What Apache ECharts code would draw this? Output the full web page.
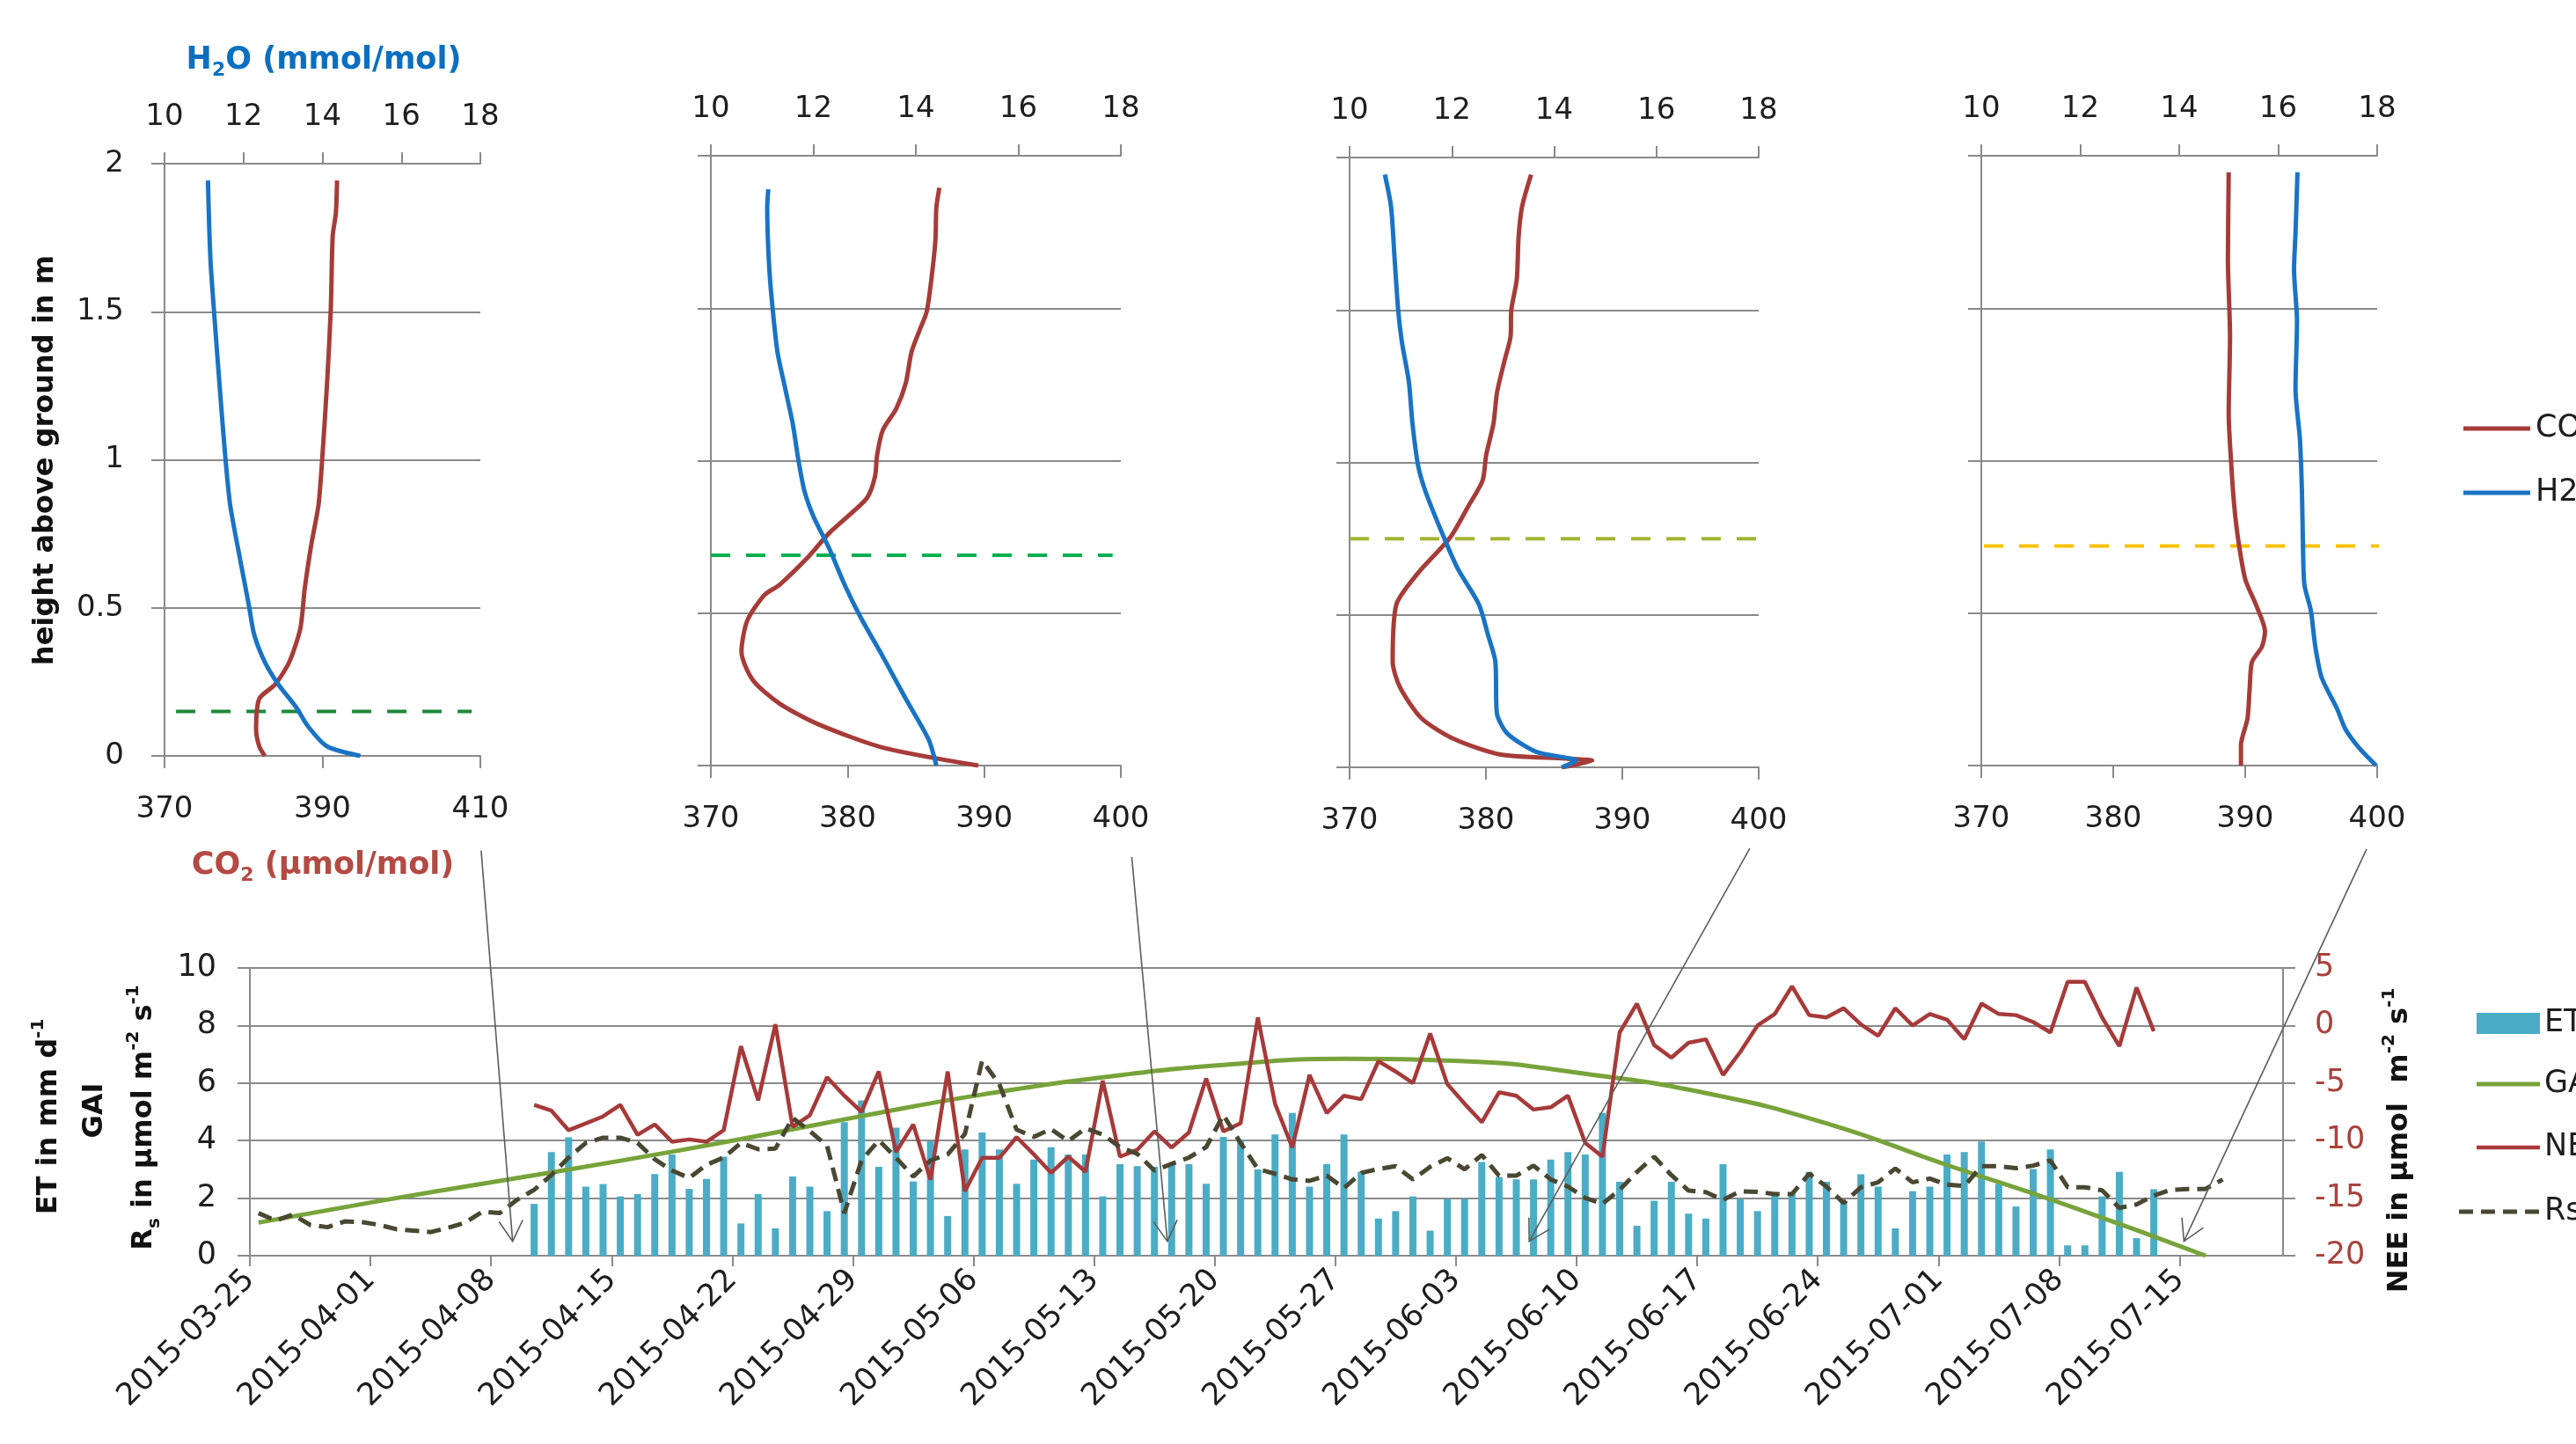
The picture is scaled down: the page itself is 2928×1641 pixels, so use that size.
<!DOCTYPE html>
<html>
<head>
<meta charset="utf-8">
<script src="https://cdn.jsdelivr.net/npm/echarts@6/dist/echarts.min.js"></script>
<style>
  html, body { margin: 0; padding: 0; background: #fff; }
  #chart { width: 2928px; height: 1641px; }
</style>
</head>
<body>
<div id="chart"></div>
<script>
// ---------- Vertical profiles: [CO2 µmol/mol, height m] and [H2O mmol/mol, height m] ----------
const profileCO2_1 = [[391.85,1.943],[391.7,1.833],[391.3,1.757],[391.06,1.511],[390.6,1.264],[389.96,0.999],[389.5,0.847],[388.6,0.715],[387.75,0.563],[387.2,0.43],[385.8,0.317],[384.0,0.241],[382.0,0.193],[381.6,0.089],[382.0,0.032],[382.7,0]];
const profileH2O_1 = [[11.10,1.943],[11.13,1.795],[11.17,1.66],[11.26,1.49],[11.39,1.26],[11.52,1.04],[11.66,0.85],[11.92,0.66],[12.14,0.506],[12.27,0.41],[12.54,0.317],[12.89,0.24],[13.33,0.165],[13.64,0.099],[14.12,0.032],[14.96,0]];

const profileCO2_2 = [[386.72,1.895],[386.5,1.83],[386.44,1.73],[386.22,1.627],[385.8,1.49],[385.24,1.424],[384.68,1.356],[384.26,1.254],[383.56,1.17],[382.58,1.10],[382.16,1.017],[382.02,0.95],[381.46,0.88],[380.34,0.83],[378.67,0.763],[376.99,0.678],[375.03,0.593],[373.91,0.559],[372.66,0.475],[372.24,0.373],[373.08,0.28],[375.03,0.203],[377.83,0.136],[382.58,0.059],[389.57,0]];
const profileH2O_2 = [[11.12,1.89],[11.10,1.83],[11.13,1.66],[11.19,1.525],[11.30,1.356],[11.45,1.237],[11.60,1.119],[11.71,1.0],[11.83,0.898],[12.01,0.814],[12.31,0.712],[12.61,0.593],[12.91,0.49],[13.36,0.356],[13.80,0.22],[14.25,0.085],[14.40,0]];

const profileCO2_3 = [[383.31,1.944],[382.65,1.839],[382.39,1.737],[382.26,1.6],[381.86,1.5],[381.81,1.415],[381.34,1.33],[380.81,1.229],[380.55,1.127],[380.02,1.025],[379.75,0.94],[378.70,0.856],[377.38,0.754],[375.0,0.636],[373.43,0.534],[373.16,0.347],[373.69,0.263],[375.27,0.161],[377.65,0.093],[381.07,0.042],[385.82,0.029],[387.79,0.022],[385.55,0]];
const profileH2O_3 = [[10.69,1.944],[10.81,1.839],[10.88,1.669],[10.95,1.5],[11.02,1.398],[11.16,1.263],[11.23,1.127],[11.34,0.99],[11.48,0.907],[11.76,0.788],[12.11,0.653],[12.53,0.534],[12.71,0.432],[12.85,0.347],[12.88,0.178],[13.09,0.11],[13.66,0.05],[14.43,0.022],[14.15,0]];

const profileCO2_4 = [[388.75,1.946],[388.69,1.66],[388.85,1.407],[388.75,1.153],[388.95,0.983],[389.18,0.847],[389.51,0.729],[390.01,0.61],[390.84,0.525],[391.50,0.44],[391.27,0.39],[390.51,0.339],[390.34,0.254],[390.17,0.153],[389.68,0.068],[389.68,0]];
const profileH2O_4 = [[16.39,1.946],[16.35,1.746],[16.32,1.627],[16.38,1.458],[16.35,1.237],[16.44,1.068],[16.48,0.898],[16.50,0.729],[16.53,0.593],[16.66,0.508],[16.75,0.39],[16.88,0.288],[17.19,0.186],[17.36,0.119],[17.63,0.059],[17.98,0]];

// canopy height (m) on each profile date
const canopyHeights = [0.15, 0.69, 0.75, 0.72];

// axis ranges of the profiles: [min, max, step]
const co2Ranges = [[370, 410, 20], [370, 400, 10], [370, 400, 10], [370, 400, 10]];
const h2oRange = [10, 18, 2];
const heightRange = [0, 2, 0.5];

// ---------- Daily time series ----------
const startDate = '2015-03-25';
const endDate = '2015-07-21';
const dateTicks = ['2015-03-25','2015-04-01','2015-04-08','2015-04-15','2015-04-22','2015-04-29','2015-05-06','2015-05-13','2015-05-20','2015-05-27','2015-06-03','2015-06-10','2015-06-17','2015-06-24','2015-07-01','2015-07-08','2015-07-15'];

// ET in mm/d, daily from 2015-04-10
const etFirstDate = '2015-04-10';
const etValues = [1.80,3.60,4.11,2.40,2.49,2.06,2.14,2.84,3.52,2.32,
  2.67,3.44,1.12,2.14,0.95,2.75,2.40,1.55,4.64,5.40,
  3.09,4.45,2.58,3.98,1.38,3.69,4.28,3.69,2.50,3.34,
  3.77,3.52,3.52,2.06,3.18,3.11,3.09,3.18,3.18,2.50,
  4.13,4.01,3.00,4.21,4.96,2.40,3.18,4.21,2.91,1.29,
  1.55,2.06,0.87,1.97,1.97,3.26,2.73,2.65,2.65,3.34,
  3.60,3.52,4.96,2.57,1.04,1.91,2.57,1.46,1.29,3.18,
  1.97,1.55,2.14,2.21,2.91,2.57,1.89,2.83,2.40,0.95,
  2.24,2.40,3.52,3.60,3.97,2.50,1.71,3.01,3.69,0.36,
  0.36,2.06,2.91,0.61,2.31];

// NEE in µmol m-2 s-1, daily from 2015-04-10
const neeFirstDate = '2015-04-10';
const neeValues = [-6.9,-7.4,-9.1,-8.5,-7.9,-6.9,-9.5,-8.6,-10.1,-9.9,
  -10.1,-9.1,-1.8,-6.5,0.1,-8.8,-7.8,-4.5,-6.1,-7.5,
  -4.0,-11.0,-8.6,-13.4,-4.0,-14.4,-11.5,-11.5,-9.7,-11.2,
  -12.8,-11.4,-12.7,-4.8,-11.4,-10.8,-9.2,-10.6,-9.3,-4.6,
  -9.2,-8.5,0.7,-6.8,-10.6,-4.3,-7.6,-6.1,-6.4,-3.1,
  -4.0,-5.0,-0.7,-5.1,-6.8,-8.4,-5.8,-6.1,-7.3,-7.1,
  -6.1,-10.2,-11.4,-0.6,1.9,-1.7,-2.8,-1.5,-1.2,-4.3,
  -2.3,0.0,1.0,3.4,0.9,0.7,1.5,0.1,-0.9,1.5,
  0.0,1.0,0.5,-1.2,1.9,1.0,0.9,0.3,-0.6,3.8,
  3.8,0.7,-1.8,3.3,-0.5];

// soil respiration Rs in µmol m-2 s-1, daily from 2015-03-25
const rsFirstDate = '2015-03-25';
const rsValues = [1.48,1.22,1.43,1.07,0.99,1.19,1.17,1.07,0.92,0.87,
  0.82,0.97,1.15,1.53,1.48,1.94,2.29,2.80,3.41,3.92,
  4.10,4.10,3.92,3.35,2.96,2.70,3.16,3.41,3.92,3.70,
  3.72,4.79,4.33,3.82,1.48,3.31,4.01,3.41,2.75,3.31,
  3.52,4.23,6.78,5.96,4.38,4.13,4.40,3.98,4.43,4.21,
  3.77,3.54,2.96,3.19,3.41,3.77,4.89,3.92,3.01,2.85,
  2.65,2.60,2.78,2.35,2.88,3.01,3.11,2.65,3.09,3.39,
  3.00,3.50,2.78,2.78,3.13,2.65,2.40,2.01,1.80,2.29,
  2.91,3.44,2.80,2.26,2.21,1.94,2.24,2.22,2.14,2.14,
  2.85,2.40,1.83,2.38,2.55,3.03,2.55,2.68,2.47,2.42,
  3.11,3.11,3.04,3.13,3.31,2.38,2.38,2.27,1.66,1.78,
  2.09,2.29,2.32,2.32,2.65];

// green area index, weekly readings
const gaiPoints = [['2015-03-25',1.15],['2015-04-01',1.9],['2015-04-08',2.6],['2015-04-15',3.3],['2015-04-22',4.05],['2015-04-29',4.85],['2015-05-06',5.6],['2015-05-13',6.2],['2015-05-20',6.63],['2015-05-27',6.84],['2015-06-03',6.76],['2015-06-10',6.32],['2015-06-17',5.65],['2015-06-24',4.6],['2015-07-01',3.15],['2015-07-08',1.75],['2015-07-16',0.0]];

// profile dates and where their arrows land on the time axis
const profileDates = ['2015-04-09', '2015-05-17', '2015-06-07', '2015-07-15'];

// ---------- helpers ----------
function dayIndex(s) {
  const p = s.split('-').map(Number);
  const q = startDate.split('-').map(Number);
  return Math.round((Date.UTC(p[0], p[1] - 1, p[2]) - Date.UTC(q[0], q[1] - 1, q[2])) / 86400000);
}
function daily(first, values) {
  const d0 = dayIndex(first);
  return values.map((v, k) => [d0 + k + 0.5, v]);
}
const tickDays = dateTicks.map(dayIndex);
const axisDays = dayIndex(endDate);

// ---------- styling ----------
const FONT = 'DejaVu Sans';
const GRAY = '#8a8a8a';
const TEXT = '#1e1e1e';
const CO2_RED = '#a63c38';
const H2O_BLUE = '#1a73c4';
const ET_BLUE = '#4bacc6';
const GAI_GREEN = '#77a33a';
const NEE_RED = '#a63a3a';
const RS_DARK = '#4a4832';
const ARROW = '#5c5c5c';

const panelLayout = [
  { left: 187, top: 186, width: 359, height: 673, canopyColor: '#1f8a3c', canopyFrom: 367.0, canopyTo: 408.9, yLabels: true },
  { left: 808, top: 177, width: 466, height: 693, canopyColor: '#00b050', canopyFrom: 370.0, canopyTo: 399.4, yLabels: false },
  { left: 1534, top: 179, width: 465, height: 693, canopyColor: '#a2b530', canopyFrom: 370.0, canopyTo: 400.6, yLabels: false },
  { left: 2252, top: 177, width: 450, height: 693, canopyColor: '#ffc000', canopyFrom: 370.2, canopyTo: 401.7, yLabels: false }
];
const profiles = [
  [profileCO2_1, profileH2O_1], [profileCO2_2, profileH2O_2],
  [profileCO2_3, profileH2O_3], [profileCO2_4, profileH2O_4]
];
// arrow start points, in each profile's own CO2 / height coordinates
const arrowStarts = [[410.1, -0.32], [400.8, -0.30], [399.35, -0.266], [399.2, -0.274]];

const lineAxis = { show: true, onZero: false, lineStyle: { color: GRAY, width: 2 } };
const tickStyle = { color: GRAY, width: 2 };
const labelBase = { color: TEXT, fontFamily: FONT };

const grids = [], xAxes = [], yAxes = [], series = [];

panelLayout.forEach((p, i) => {
  grids.push({ left: p.left, top: p.top, width: p.width, height: p.height });
  const r = co2Ranges[i];
  xAxes.push({
    gridIndex: i, type: 'value', position: 'bottom', min: r[0], max: r[1], interval: r[2],
    axisLine: lineAxis, axisTick: { show: true, inside: false, length: 14, lineStyle: tickStyle },
    axisLabel: Object.assign({ margin: 44, fontSize: 34 }, labelBase), splitLine: { show: false }
  });
  xAxes.push({
    gridIndex: i, type: 'value', position: 'top', min: h2oRange[0], max: h2oRange[1], interval: h2oRange[2],
    axisLine: lineAxis, axisTick: { show: true, inside: false, length: 13, lineStyle: tickStyle },
    axisLabel: Object.assign({ margin: 36, fontSize: 34 }, labelBase), splitLine: { show: false }
  });
  yAxes.push({
    gridIndex: i, type: 'value', min: heightRange[0], max: heightRange[1], interval: heightRange[2],
    axisLine: lineAxis, axisTick: { show: true, inside: false, length: 15, lineStyle: tickStyle },
    axisLabel: Object.assign({ show: p.yLabels, margin: 46, fontSize: 34 }, labelBase),
    splitLine: { show: true, lineStyle: { color: GRAY, width: 2 } }
  });
  series.push({
    type: 'line', xAxisIndex: 2 * i, yAxisIndex: i, clip: false, symbol: 'none', silent: true,
    data: [[p.canopyFrom, canopyHeights[i]], [p.canopyTo, canopyHeights[i]]],
    lineStyle: { color: p.canopyColor, width: 4, type: [22, 18] }
  });
  series.push({
    name: 'CO2', type: 'line', xAxisIndex: 2 * i, yAxisIndex: i, symbol: 'none', smooth: 0.25,
    data: profiles[i][0], lineStyle: { color: CO2_RED, width: 5 }
  });
  series.push({
    name: 'H2O', type: 'line', xAxisIndex: 2 * i + 1, yAxisIndex: i, symbol: 'none', smooth: 0.25,
    data: profiles[i][1], lineStyle: { color: H2O_BLUE, width: 5 }
  });
});

// ---------- daily time series chart ----------
grids.push({ left: 284, top: 1100, width: 2311, height: 327 });
const tsX = xAxes.length;
xAxes.push({
  gridIndex: 4, type: 'value', min: 0, max: axisDays, interval: 7,
  axisLine: lineAxis,
  axisTick: { show: true, length: 12, customValues: tickDays, lineStyle: tickStyle },
  axisLabel: Object.assign({
    customValues: tickDays, rotate: 45, margin: 22, fontSize: 35,
    formatter: v => { const k = tickDays.indexOf(v); return k >= 0 ? dateTicks[k] : ''; }
  }, labelBase),
  splitLine: { show: false }
});
const tsLeft = yAxes.length;
yAxes.push({
  gridIndex: 4, type: 'value', position: 'left', min: 0, max: 10, interval: 2,
  axisLine: lineAxis, axisTick: { show: true, length: 14, lineStyle: tickStyle },
  axisLabel: Object.assign({ margin: 38, fontSize: 35 }, labelBase),
  splitLine: { show: true, lineStyle: { color: GRAY, width: 2 } }
});
const tsRight = yAxes.length;
yAxes.push({
  gridIndex: 4, type: 'value', position: 'right', min: -20, max: 5, interval: 5,
  axisLine: lineAxis, axisTick: { show: true, length: 14, lineStyle: tickStyle },
  axisLabel: { margin: 36, fontSize: 35, color: '#a8423c', fontFamily: FONT },
  splitLine: { show: false }
});

series.push({
  name: 'ET', type: 'bar', xAxisIndex: tsX, yAxisIndex: tsLeft, barWidth: 8,
  data: daily(etFirstDate, etValues), itemStyle: { color: ET_BLUE }
});
series.push({
  name: 'GAI', type: 'line', xAxisIndex: tsX, yAxisIndex: tsLeft, symbol: 'none', smooth: 0.5,
  data: gaiPoints.map(g => [dayIndex(g[0]) + 0.5, g[1]]), lineStyle: { color: GAI_GREEN, width: 5 }
});
series.push({
  name: 'NEE', type: 'line', xAxisIndex: tsX, yAxisIndex: tsRight, symbol: 'none',
  data: daily(neeFirstDate, neeValues), lineStyle: { color: NEE_RED, width: 4.5 }
});
series.push({
  name: 'Rs', type: 'line', xAxisIndex: tsX, yAxisIndex: tsLeft, symbol: 'none',
  data: daily(rsFirstDate, rsValues), lineStyle: { color: RS_DARK, width: 5, type: [16, 9] }
});

const chart = echarts.init(document.getElementById('chart'), null, { renderer: 'canvas' });
chart.setOption({
  animation: false,
  backgroundColor: '#ffffff',
  textStyle: { fontFamily: FONT },
  grid: grids, xAxis: xAxes, yAxis: yAxes, series: series
});

// ---------- titles, legends and arrows ----------
const T = (size, color) => ({ fontSize: size, fontWeight: 'bold', fontFamily: FONT, fill: color, lineHeight: 44, verticalAlign: 'middle' });
const SUP = (size, color) => ({ fontSize: size, fontWeight: 'bold', fontFamily: FONT, fill: color, lineHeight: 22, verticalAlign: 'top' });
const SUB = (size, color) => ({ fontSize: size, fontWeight: 'bold', fontFamily: FONT, fill: color, lineHeight: 22, verticalAlign: 'bottom' });

function richText(id, x, y, text, color, size, rotation) {
  return {
    id: id, type: 'text', x: x, y: y, rotation: rotation || 0, z: 50,
    style: {
      text: text, align: 'center', verticalAlign: 'middle',
      rich: { t: T(size, color), sup: SUP(Math.round(size * 0.62), color), sub: SUB(Math.round(size * 0.62), color) }
    }
  };
}

const graphics = [
  richText('h2oTitle', 368, 69, '{t|H}{sub|2}{t|O (mmol/mol)}', '#0b6fc0', 35),
  richText('co2Title', 367, 984, '{t|CO}{sub|2}{t| (μmol/mol)}', '#b34a44', 35),
  richText('hTitle', 52, 523, '{t|height above ground in m}', '#111111', 32, Math.PI / 2),
  richText('etTitle', 56, 1269, '{t|ET in mm d}{sup|-1}', '#111111', 32, Math.PI / 2),
  richText('gaiTitle', 108, 1262, '{t|GAI}', '#111111', 32, Math.PI / 2),
  richText('rsTitle', 164, 1270, '{t|R}{sub|s}{t| in μmol m}{sup|-2}{t| s}{sup|-1}', '#111111', 32, Math.PI / 2),
  richText('neeTitle', 2728, 1296, '{t|NEE in μmol  m}{sup|-2}{t| s}{sup|-1}', '#111111', 32, Math.PI / 2)
];

// legend of the profiles
[['CO2', CO2_RED, 487], ['H2O', H2O_BLUE, 560]].forEach((L, k) => {
  graphics.push({ id: 'pl' + k, type: 'line', z: 50, shape: { x1: 2800, y1: L[2], x2: 2876, y2: L[2] }, style: { stroke: L[1], lineWidth: 5 } });
  graphics.push({ id: 'pt' + k, type: 'text', z: 50, x: 2882, y: L[2], style: { text: L[0], fontSize: 35, fontFamily: FONT, fill: TEXT, verticalAlign: 'middle', align: 'left' } });
});

// legend of the time series
graphics.push({ id: 'lgEt', type: 'rect', z: 50, shape: { x: 2815, y: 1151, width: 72, height: 24 }, style: { fill: ET_BLUE } });
graphics.push({ id: 'lgGai', type: 'line', z: 50, shape: { x1: 2815, y1: 1232, x2: 2887, y2: 1232 }, style: { stroke: GAI_GREEN, lineWidth: 5 } });
graphics.push({ id: 'lgNee', type: 'line', z: 50, shape: { x1: 2815, y1: 1304, x2: 2887, y2: 1304 }, style: { stroke: NEE_RED, lineWidth: 4.5 } });
graphics.push({ id: 'lgRs', type: 'line', z: 50, shape: { x1: 2795, y1: 1377, x2: 2887, y2: 1377 }, style: { stroke: RS_DARK, lineWidth: 5, lineDash: [16, 9] } });
[['ET', 1163], ['GAI', 1232], ['NEE', 1304], ['Rs', 1377]].forEach((L, k) => {
  graphics.push({ id: 'lt' + k, type: 'text', z: 50, x: 2892, y: L[1], style: { text: L[0], fontSize: 35, fontFamily: FONT, fill: TEXT, verticalAlign: 'middle', align: 'left' } });
});

// arrows linking each profile to its date on the time axis
profileDates.forEach((d, i) => {
  const from = chart.convertToPixel({ xAxisIndex: 2 * i, yAxisIndex: i }, arrowStarts[i]);
  const to = chart.convertToPixel({ xAxisIndex: tsX, yAxisIndex: tsLeft }, [dayIndex(d) + 0.25, 0.5]);
  const ang = Math.atan2(to[1] - from[1], to[0] - from[0]);
  const L = 27, spread = Math.PI / 6;
  const a1 = [to[0] - L * Math.cos(ang - spread), to[1] - L * Math.sin(ang - spread)];
  const a2 = [to[0] - L * Math.cos(ang + spread), to[1] - L * Math.sin(ang + spread)];
  graphics.push({ id: 'ar' + i, type: 'line', z: 60, shape: { x1: from[0], y1: from[1], x2: to[0], y2: to[1] }, style: { stroke: ARROW, lineWidth: 1.6 } });
  graphics.push({ id: 'ah' + i, type: 'polyline', z: 60, shape: { points: [a1, to, a2] }, style: { stroke: ARROW, lineWidth: 1.6, fill: null } });
});

chart.setOption({ graphic: graphics });
</script>
</body>
</html>
